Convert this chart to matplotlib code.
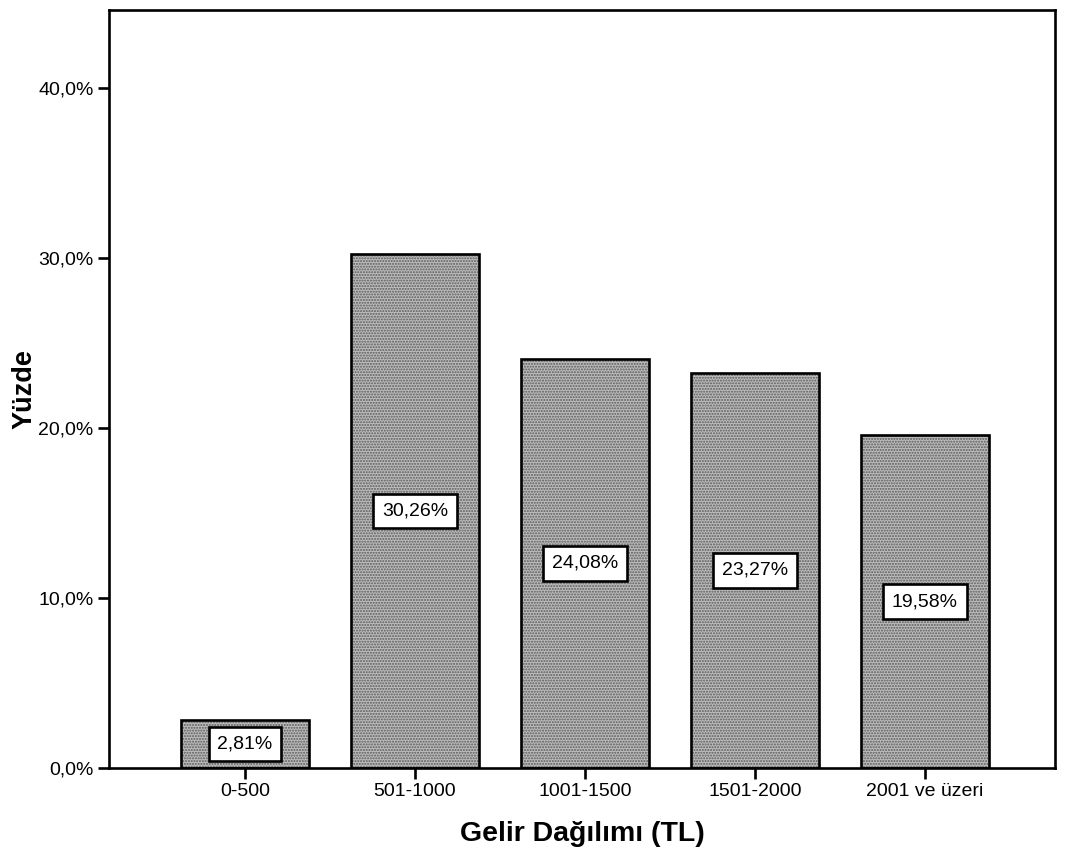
import matplotlib
matplotlib.use("Agg")
import matplotlib.pyplot as plt

categories = ["0-500", "501-1000", "1001-1500", "1501-2000", "2001 ve üzeri"]
percentages = [2.81, 30.26, 24.08, 23.27, 19.58]
y_ticks = [0, 10, 20, 30, 40]

plt.rcParams["font.family"] = ["Liberation Sans", "DejaVu Sans"]

fig = plt.figure(figsize=(10.69, 8.58), dpi=100)
W, H = 1069, 858
left, right, top, bottom = 109, 1055, 10, 768
ax = fig.add_axes([left / W, 1 - bottom / H, (right - left) / W, (bottom - top) / H])

x = list(range(len(categories)))
# stippled grey fill, then a solid black outline on top
plt.rcParams["hatch.linewidth"] = 1.0
ax.bar(x, percentages, width=0.75, color="#bcbcbc", edgecolor="#5a5a5a",
       hatch="......", linewidth=0, zorder=2)
ax.bar(x, percentages, width=0.75, fill=False, edgecolor="black",
       linewidth=1.9, zorder=3)

for xi, v in zip(x, percentages):
    ax.text(xi, v / 2, f"{v:.2f}%".replace(".", ","),
            ha="center", va="center", fontsize=14, zorder=4,
            bbox=dict(boxstyle="square,pad=0.45", facecolor="white",
                      edgecolor="black", linewidth=1.9))

ax.set_xlim(-0.8, 4.765)
ax.set_ylim(0, 44.6)
ax.set_xticks(x)
ax.set_xticklabels(categories, fontsize=14)
ax.set_yticks(y_ticks)
ax.set_yticklabels([f"{t:.1f}%".replace(".", ",") for t in y_ticks], fontsize=14)
ax.tick_params(axis="both", direction="out", length=8, width=1.9, pad=3)

for s in ax.spines.values():
    s.set_linewidth(1.9)
    s.set_color("black")

ax.set_xlabel("Gelir Dağılımı (TL)", fontsize=20.5, fontweight="bold", labelpad=15)
ax.set_ylabel("Yüzde", fontsize=19.5, fontweight="bold")
ax.yaxis.set_label_coords(-0.076, 0.5)

fig.savefig("out.png", dpi=100, facecolor="white")
